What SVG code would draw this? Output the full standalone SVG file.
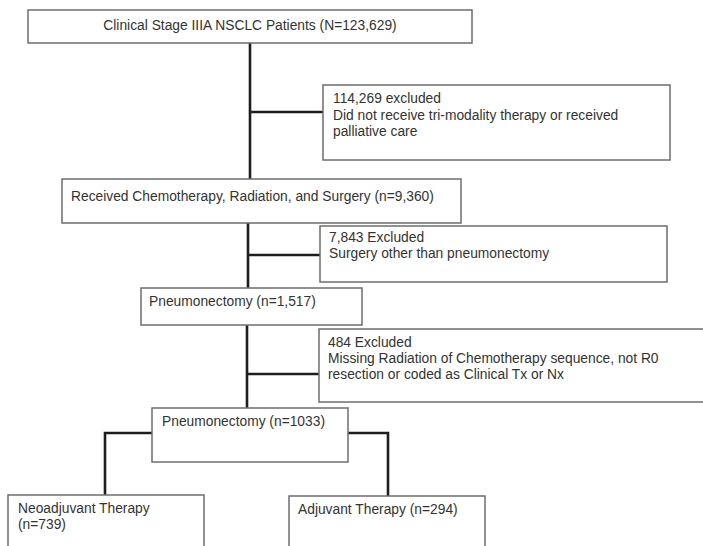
<svg xmlns="http://www.w3.org/2000/svg" width="703" height="546" viewBox="0 0 703 546">
<style>
.box{fill:#fff;stroke:#6e6e6e;stroke-width:1.5}
.t{font-family:"Liberation Sans",Arial,sans-serif;font-size:13.8px;fill:#333}
.c{fill:none;stroke:#1e1e1e;stroke-width:2.6}
</style>
<rect width="703" height="546" fill="#fff"/>
<g id="connectors">
<line class="c" x1="250" y1="43" x2="250" y2="179"/>
<line class="c" x1="250" y1="112" x2="323" y2="112"/>
<line class="c" x1="248" y1="223" x2="248" y2="288"/>
<line class="c" x1="248" y1="255" x2="320" y2="255"/>
<line class="c" x1="247" y1="325" x2="247" y2="408"/>
<line class="c" x1="247" y1="374" x2="319" y2="374"/>
<path class="c" d="M152,433 H105 V495"/>
<path class="c" d="M348,433 H388 V496"/>
</g>
<g id="n1">
<rect class="box" x="28" y="10" width="444" height="33"/>
<text class="t" x="250" y="30" text-anchor="middle">Clinical Stage IIIA NSCLC Patients (N=123,629)</text>
</g>
<g id="n2">
<rect class="box" x="323" y="85" width="347" height="75"/>
<text class="t" x="333" y="103">114,269 excluded</text>
<text class="t" x="333" y="120">Did not receive tri-modality therapy or received</text>
<text class="t" x="333" y="136">palliative care</text>
</g>
<g id="n3">
<rect class="box" x="62" y="179" width="399" height="44"/>
<text class="t" x="71" y="201">Received Chemotherapy, Radiation, and Surgery (n=9,360)</text>
</g>
<g id="n4">
<rect class="box" x="320" y="226" width="347" height="56"/>
<text class="t" x="329" y="242">7,843 Excluded</text>
<text class="t" x="329" y="258">Surgery other than pneumonectomy</text>
</g>
<g id="n5">
<rect class="box" x="141" y="288" width="221" height="37"/>
<text class="t" x="149" y="306">Pneumonectomy (n=1,517)</text>
</g>
<g id="n6">
<rect class="box" x="319" y="329" width="386" height="73"/>
<text class="t" x="328" y="347">484 Excluded</text>
<text class="t" x="328" y="363">Missing Radiation of Chemotherapy sequence, not R0</text>
<text class="t" x="328" y="379">resection or coded as Clinical Tx or Nx</text>
</g>
<g id="n7">
<rect class="box" x="152" y="408" width="196" height="54"/>
<text class="t" x="162" y="426">Pneumonectomy (n=1033)</text>
</g>
<g id="n8">
<rect class="box" x="8" y="495" width="196" height="60"/>
<text class="t" x="18" y="513">Neoadjuvant Therapy</text>
<text class="t" x="18" y="529">(n=739)</text>
</g>
<g id="n9">
<rect class="box" x="289" y="496" width="196" height="60"/>
<text class="t" x="298" y="514">Adjuvant Therapy (n=294)</text>
</g>
</svg>
